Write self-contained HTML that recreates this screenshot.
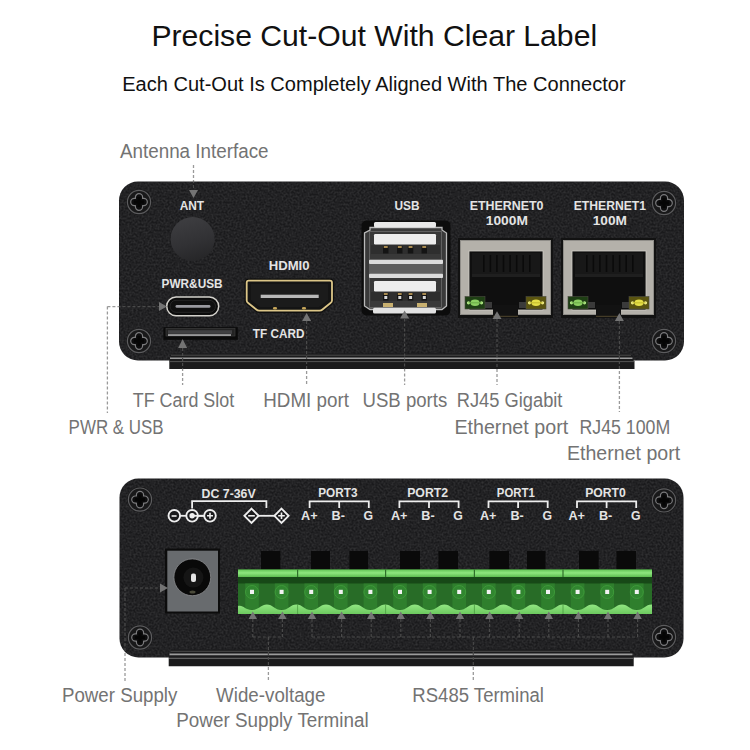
<!DOCTYPE html>
<html><head><meta charset="utf-8"><style>
html,body{margin:0;padding:0;background:#fff;width:750px;height:750px;overflow:hidden}
svg{display:block}
text{font-family:"Liberation Sans",sans-serif}
</style></head><body>
<svg width="750" height="750" viewBox="0 0 750 750">
<rect width="750" height="750" fill="#ffffff"/>
<text x="151.44" y="45.50" font-size="30" fill="#111111" font-weight="normal" textLength="445.67" lengthAdjust="spacingAndGlyphs">Precise Cut-Out With Clear Label</text>
<text x="122.15" y="91.00" font-size="19.5" fill="#111111" font-weight="normal" textLength="503.45" lengthAdjust="spacingAndGlyphs">Each Cut-Out Is Completely Aligned With The Connector</text>
<defs><filter id="grain" x="0" y="0" width="100%" height="100%" color-interpolation-filters="sRGB"><feTurbulence type="fractalNoise" baseFrequency="0.5" numOctaves="2" seed="7" result="n"/><feColorMatrix in="n" type="matrix" values="0 0 0 0 1  0 0 0 0 1  0 0 0 0 1  0.2 0 0 0 -0.06" result="w"/><feComposite in="w" in2="SourceGraphic" operator="in"/></filter></defs>
<rect x="119" y="181.5" width="565" height="179" rx="19" fill="#1a1a1c"/>
<rect x="119" y="181.5" width="565" height="179" rx="19" fill="#000" filter="url(#grain)"/>
<path d="M171.3 353.5 H630 L633 356.5 V360 L634.5 361 V369 H169.3 V360 L171.3 359 Z" fill="#1b1b1c"/>
<line x1="171" y1="355.2" x2="631" y2="355.2" stroke="#4a4a4a" stroke-width="1"/>
<line x1="170" y1="358.3" x2="632.5" y2="358.3" stroke="#9c9c9c" stroke-width="1.6"/>
<line x1="169.5" y1="361.6" x2="634" y2="361.6" stroke="#555" stroke-width="1"/>
<circle cx="139" cy="202" r="12.799999999999999" fill="#1a1a1b"/>
<circle cx="139" cy="202" r="11.6" fill="#19191a" stroke="#5c5c5e" stroke-width="1.2"/>
<path d="M135.4 198.4 V197.29999999999998 A3.6 3.6 0 0 1 142.6 197.29999999999998 V198.4 H143.70000000000002 A3.6 3.6 0 0 1 143.70000000000002 205.6 H142.6 V206.70000000000002 A3.6 3.6 0 0 1 135.4 206.70000000000002 V205.6 H134.29999999999998 A3.6 3.6 0 0 1 134.29999999999998 198.4 Z" fill="#0d0d0e" stroke="#7a7a7c" stroke-width="1.2" stroke-linejoin="round"/>
<path d="M137.4 197 H140.6 V200.4 H144 V203.6 H140.6 V207 H137.4 V203.6 H134 V200.4 H137.4 Z" fill="#050505"/>
<circle cx="664" cy="203" r="12.799999999999999" fill="#1a1a1b"/>
<circle cx="664" cy="203" r="11.6" fill="#19191a" stroke="#5c5c5e" stroke-width="1.2"/>
<path d="M660.4 199.4 V198.29999999999998 A3.6 3.6 0 0 1 667.6 198.29999999999998 V199.4 H668.6999999999999 A3.6 3.6 0 0 1 668.6999999999999 206.6 H667.6 V207.70000000000002 A3.6 3.6 0 0 1 660.4 207.70000000000002 V206.6 H659.3000000000001 A3.6 3.6 0 0 1 659.3000000000001 199.4 Z" fill="#0d0d0e" stroke="#7a7a7c" stroke-width="1.2" stroke-linejoin="round"/>
<path d="M662.4 198 H665.6 V201.4 H669 V204.6 H665.6 V208 H662.4 V204.6 H659 V201.4 H662.4 Z" fill="#050505"/>
<circle cx="139" cy="341" r="12.799999999999999" fill="#1a1a1b"/>
<circle cx="139" cy="341" r="11.6" fill="#19191a" stroke="#5c5c5e" stroke-width="1.2"/>
<path d="M135.4 337.4 V336.3 A3.6 3.6 0 0 1 142.6 336.3 V337.4 H143.70000000000002 A3.6 3.6 0 0 1 143.70000000000002 344.6 H142.6 V345.7 A3.6 3.6 0 0 1 135.4 345.7 V344.6 H134.29999999999998 A3.6 3.6 0 0 1 134.29999999999998 337.4 Z" fill="#0d0d0e" stroke="#7a7a7c" stroke-width="1.2" stroke-linejoin="round"/>
<path d="M137.4 336 H140.6 V339.4 H144 V342.6 H140.6 V346 H137.4 V342.6 H134 V339.4 H137.4 Z" fill="#050505"/>
<circle cx="664" cy="341" r="12.799999999999999" fill="#1a1a1b"/>
<circle cx="664" cy="341" r="11.6" fill="#19191a" stroke="#5c5c5e" stroke-width="1.2"/>
<path d="M660.4 337.4 V336.3 A3.6 3.6 0 0 1 667.6 336.3 V337.4 H668.6999999999999 A3.6 3.6 0 0 1 668.6999999999999 344.6 H667.6 V345.7 A3.6 3.6 0 0 1 660.4 345.7 V344.6 H659.3000000000001 A3.6 3.6 0 0 1 659.3000000000001 337.4 Z" fill="#0d0d0e" stroke="#7a7a7c" stroke-width="1.2" stroke-linejoin="round"/>
<path d="M662.4 336 H665.6 V339.4 H669 V342.6 H665.6 V346 H662.4 V342.6 H659 V339.4 H662.4 Z" fill="#050505"/>
<text x="179.71" y="210.00" font-size="12.5" fill="#e4e4e4" font-weight="bold" textLength="24.42" lengthAdjust="spacingAndGlyphs">ANT</text>
<defs><linearGradient id="antg" x1="0.3" y1="0" x2="0.6" y2="1"><stop offset="0" stop-color="#3e3e41"/><stop offset="0.6" stop-color="#313134"/><stop offset="1" stop-color="#262628"/></linearGradient></defs>
<circle cx="192.6" cy="239" r="22" fill="url(#antg)"/>
<text x="161.60" y="288.00" font-size="12.5" fill="#e4e4e4" font-weight="bold" textLength="60.95" lengthAdjust="spacingAndGlyphs">PWR&amp;USB</text>
<rect x="166.7" y="297" width="52" height="18.7" rx="9.35" fill="#0b0b0b" stroke="#d4d2cc" stroke-width="1.5"/>
<rect x="170" y="300.3" width="45.5" height="12" rx="6" fill="#101010" stroke="#262626" stroke-width="1"/>
<rect x="175.5" y="305" width="35" height="2.8" rx="1.4" fill="#9a9aa0"/>
<rect x="163.4" y="327.2" width="74.4" height="12.6" fill="#0a0a0a"/>
<rect x="166" y="328.6" width="69" height="7.4" fill="#232323" stroke="#3c3c3c" stroke-width="0.7"/>
<rect x="168" y="330.2" width="64" height="3.6" fill="#404042"/>
<rect x="168" y="334.3" width="63" height="1.5" fill="#b4b4b6"/>
<text x="268.74" y="270.40" font-size="13" fill="#e4e4e4" font-weight="bold" textLength="40.81" lengthAdjust="spacingAndGlyphs">HDMI0</text>
<path d="M248.7 280.7 H330 Q332 280.7 332 282.7 V300.5 Q332 302 330.5 303 L322.5 309.5 Q321.3 310.7 319.5 310.7 H259.3 Q257.5 310.7 256.3 309.5 L248.2 303 Q246.7 302 246.7 300.5 V282.7 Q246.7 280.7 248.7 280.7 Z" fill="none" stroke="#0e0e0e" stroke-width="4.5"/>
<path d="M248.7 280.7 H330 Q332 280.7 332 282.7 V300.5 Q332 302 330.5 303 L322.5 309.5 Q321.3 310.7 319.5 310.7 H259.3 Q257.5 310.7 256.3 309.5 L248.2 303 Q246.7 302 246.7 300.5 V282.7 Q246.7 280.7 248.7 280.7 Z" fill="#141414" stroke="#dcc688" stroke-width="1.8"/>
<path d="M251 284 H328 V300 L319 307 H260 L251 300 Z" fill="#1b1b1b"/>
<rect x="260.7" y="294.7" width="58" height="3.3" fill="#b8b8b8"/>
<ellipse cx="275" cy="308.3" rx="2.2" ry="1.3" fill="#c9a85a"/><ellipse cx="304" cy="308.3" rx="2.2" ry="1.3" fill="#c9a85a"/>
<text x="252.87" y="338.40" font-size="13.5" fill="#e4e4e4" font-weight="bold" textLength="51.60" lengthAdjust="spacingAndGlyphs">TF CARD</text>
<text x="394.49" y="209.80" font-size="12.5" fill="#e4e4e4" font-weight="bold" textLength="25.08" lengthAdjust="spacingAndGlyphs">USB</text>
<rect x="361.5" y="220.5" width="89" height="95" rx="5" fill="#0c0c0c"/>
<path d="M370 227.5 H442 V230 L446.5 233 V306 L442 309.5 H370 L364.5 306 V233 L370 230 Z" fill="#3a3a3a" stroke="#b9b9b9" stroke-width="1.3"/>
<rect x="369.5" y="231.5" width="72" height="76" fill="#383838" stroke="#6a6a6a" stroke-width="0.8"/>
<rect x="374" y="222" width="62" height="5.5" rx="1.5" fill="#e8e8e8"/>
<rect x="374" y="234" width="62" height="10.5" rx="1.2" fill="#ededed"/>
<rect x="371" y="245" width="69" height="9" fill="#2e2e2e"/>
<rect x="383" y="246" width="5.5" height="7.5" fill="#141414"/>
<rect x="383.8" y="246" width="3.9" height="2" fill="#a88a50"/>
<rect x="397" y="246" width="5.5" height="7.5" fill="#141414"/>
<rect x="397.8" y="246" width="3.9" height="2" fill="#a88a50"/>
<rect x="407.8" y="246" width="5.5" height="7.5" fill="#141414"/>
<rect x="408.6" y="246" width="3.9" height="2" fill="#a88a50"/>
<rect x="421.5" y="246" width="5.5" height="7.5" fill="#141414"/>
<rect x="422.3" y="246" width="3.9" height="2" fill="#a88a50"/>
<rect x="374" y="281" width="62" height="10.5" rx="1.2" fill="#ededed"/>
<rect x="371" y="292" width="69" height="9" fill="#2e2e2e"/>
<rect x="383" y="293" width="5.5" height="7.5" fill="#141414"/>
<rect x="383.8" y="293" width="3.9" height="2" fill="#a88a50"/>
<rect x="397" y="293" width="5.5" height="7.5" fill="#141414"/>
<rect x="397.8" y="293" width="3.9" height="2" fill="#a88a50"/>
<rect x="407.8" y="293" width="5.5" height="7.5" fill="#141414"/>
<rect x="408.6" y="293" width="3.9" height="2" fill="#a88a50"/>
<rect x="421.5" y="293" width="5.5" height="7.5" fill="#141414"/>
<rect x="422.3" y="293" width="3.9" height="2" fill="#a88a50"/>
<rect x="383" y="303" width="10" height="4" fill="#c8b070"/><rect x="417" y="303" width="10" height="4" fill="#c8b070"/>
<rect x="384.3" y="296" width="3" height="3" fill="#d8d8d8"/>
<rect x="398.3" y="296" width="3" height="3" fill="#d8d8d8"/>
<rect x="409.1" y="296" width="3" height="3" fill="#d8d8d8"/>
<rect x="422.8" y="296" width="3" height="3" fill="#d8d8d8"/>
<rect x="369" y="259.7" width="74" height="18.3" fill="#5e5e5e"/>
<rect x="369" y="259.7" width="74" height="4.2" rx="1" fill="#dcdcdc"/>
<rect x="369" y="273.8" width="74" height="4.2" rx="1" fill="#dcdcdc"/>
<rect x="373" y="307.7" width="63" height="5.8" rx="1.5" fill="#e2e2e2"/>
<text x="469.66" y="209.80" font-size="12.5" fill="#e4e4e4" font-weight="bold" textLength="73.86" lengthAdjust="spacingAndGlyphs">ETHERNET0</text>
<text x="485.82" y="225.00" font-size="12.5" fill="#e4e4e4" font-weight="bold" textLength="42.08" lengthAdjust="spacingAndGlyphs">1000M</text>
<text x="573.77" y="209.60" font-size="12.5" fill="#e4e4e4" font-weight="bold" textLength="72.18" lengthAdjust="spacingAndGlyphs">ETHERNET1</text>
<text x="592.73" y="225.00" font-size="12.5" fill="#e4e4e4" font-weight="bold" textLength="34.17" lengthAdjust="spacingAndGlyphs">100M</text>
<rect x="458" y="238" width="95" height="80" fill="#121212"/>
<rect x="460" y="240" width="91" height="75" fill="#b4b1aa"/>
<rect x="460.5" y="240.5" width="90" height="74" fill="none" stroke="#8f8d88" stroke-width="1"/>
<rect x="469" y="251" width="74" height="59" fill="#0f0f0f" stroke="#d0cdc5" stroke-width="0.8"/>
<rect x="472" y="253" width="68" height="21" fill="#181818"/>
<rect x="483.0" y="255" width="1.6" height="17" fill="#0a0a0a"/>
<rect x="489.6" y="255" width="1.6" height="17" fill="#0a0a0a"/>
<rect x="496.1" y="255" width="1.6" height="17" fill="#0a0a0a"/>
<rect x="502.7" y="255" width="1.6" height="17" fill="#0a0a0a"/>
<rect x="509.3" y="255" width="1.6" height="17" fill="#0a0a0a"/>
<rect x="515.9" y="255" width="1.6" height="17" fill="#0a0a0a"/>
<rect x="522.4" y="255" width="1.6" height="17" fill="#0a0a0a"/>
<rect x="529.0" y="255" width="1.6" height="17" fill="#0a0a0a"/>
<rect x="472" y="274" width="68" height="3" fill="#1f1f1f"/>
<rect x="493.0" y="305" width="25" height="11.5" fill="#121212"/>
<line x1="493.0" y1="316.3" x2="518.0" y2="316.3" stroke="#7a6a40" stroke-width="0.6"/>
<rect x="485" y="302" width="7" height="6" fill="#3a3a3a"/>
<rect x="519" y="302" width="7" height="6" fill="#3a3a3a"/>
<rect x="465" y="296.5" width="20" height="12.5" fill="#1e3f14" stroke="#4a4a40" stroke-width="0.6"/>
<ellipse cx="475" cy="302.8" rx="4.5" ry="3.2" fill="#8ccf62"/>
<circle cx="468.5" cy="302.8" r="1.6" fill="#b8f08a"/><circle cx="481.5" cy="302.8" r="1.6" fill="#b8f08a"/>
<line x1="468.5" y1="302.8" x2="481.5" y2="302.8" stroke="#6fb04a" stroke-width="1.2"/>
<rect x="526" y="296.5" width="20" height="12.5" fill="#5a5410" stroke="#4a4a40" stroke-width="0.6"/>
<ellipse cx="536" cy="302.8" rx="4.5" ry="3.2" fill="#e6e048"/>
<circle cx="529.5" cy="302.8" r="1.6" fill="#f4f08a"/><circle cx="542.5" cy="302.8" r="1.6" fill="#f4f08a"/>
<line x1="529.5" y1="302.8" x2="542.5" y2="302.8" stroke="#c8c030" stroke-width="1.2"/>
<rect x="561" y="238" width="95" height="80" fill="#121212"/>
<rect x="563" y="240" width="91" height="75" fill="#b4b1aa"/>
<rect x="563.5" y="240.5" width="90" height="74" fill="none" stroke="#8f8d88" stroke-width="1"/>
<rect x="572" y="251" width="74" height="59" fill="#0f0f0f" stroke="#d0cdc5" stroke-width="0.8"/>
<rect x="575" y="253" width="68" height="21" fill="#181818"/>
<rect x="586.0" y="255" width="1.6" height="17" fill="#0a0a0a"/>
<rect x="592.6" y="255" width="1.6" height="17" fill="#0a0a0a"/>
<rect x="599.1" y="255" width="1.6" height="17" fill="#0a0a0a"/>
<rect x="605.7" y="255" width="1.6" height="17" fill="#0a0a0a"/>
<rect x="612.3" y="255" width="1.6" height="17" fill="#0a0a0a"/>
<rect x="618.9" y="255" width="1.6" height="17" fill="#0a0a0a"/>
<rect x="625.4" y="255" width="1.6" height="17" fill="#0a0a0a"/>
<rect x="632.0" y="255" width="1.6" height="17" fill="#0a0a0a"/>
<rect x="575" y="274" width="68" height="3" fill="#1f1f1f"/>
<rect x="596.0" y="305" width="25" height="11.5" fill="#121212"/>
<line x1="596.0" y1="316.3" x2="621.0" y2="316.3" stroke="#7a6a40" stroke-width="0.6"/>
<rect x="588" y="302" width="7" height="6" fill="#3a3a3a"/>
<rect x="622" y="302" width="7" height="6" fill="#3a3a3a"/>
<rect x="568" y="296.5" width="20" height="12.5" fill="#1e3f14" stroke="#4a4a40" stroke-width="0.6"/>
<ellipse cx="578" cy="302.8" rx="4.5" ry="3.2" fill="#8ccf62"/>
<circle cx="571.5" cy="302.8" r="1.6" fill="#b8f08a"/><circle cx="584.5" cy="302.8" r="1.6" fill="#b8f08a"/>
<line x1="571.5" y1="302.8" x2="584.5" y2="302.8" stroke="#6fb04a" stroke-width="1.2"/>
<rect x="629" y="296.5" width="20" height="12.5" fill="#5a5410" stroke="#4a4a40" stroke-width="0.6"/>
<ellipse cx="639" cy="302.8" rx="4.5" ry="3.2" fill="#e6e048"/>
<circle cx="632.5" cy="302.8" r="1.6" fill="#f4f08a"/><circle cx="645.5" cy="302.8" r="1.6" fill="#f4f08a"/>
<line x1="632.5" y1="302.8" x2="645.5" y2="302.8" stroke="#c8c030" stroke-width="1.2"/>
<path d="M193.5 198 L198.0 190 L189.0 190 Z" fill="#747474"/>
<path d="M167 306.6 L159 302.1 L159 311.1 Z" fill="#747474"/>
<path d="M182.6 339 L187.1 348 L178.1 348 Z" fill="#747474"/>
<path d="M306.6 313 L311.1 321 L302.1 321 Z" fill="#747474"/>
<path d="M404.6 310.6 L409.1 318.5 L400.1 318.5 Z" fill="#747474"/>
<path d="M497 311.3 L501.5 319 L492.5 319 Z" fill="#747474"/>
<path d="M619.4 313 L623.9 321 L614.9 321 Z" fill="#747474"/>
<text x="119.95" y="158.30" font-size="20" fill="#737373" font-weight="normal" textLength="148.59" lengthAdjust="spacingAndGlyphs">Antenna Interface</text>
<text x="132.80" y="407.20" font-size="20" fill="#737373" font-weight="normal" textLength="101.35" lengthAdjust="spacingAndGlyphs">TF Card Slot</text>
<text x="263.25" y="407.20" font-size="20" fill="#737373" font-weight="normal" textLength="85.72" lengthAdjust="spacingAndGlyphs">HDMI port</text>
<text x="362.56" y="407.20" font-size="20" fill="#737373" font-weight="normal" textLength="84.69" lengthAdjust="spacingAndGlyphs">USB ports</text>
<text x="456.79" y="407.20" font-size="20" fill="#737373" font-weight="normal" textLength="105.66" lengthAdjust="spacingAndGlyphs">RJ45 Gigabit</text>
<text x="68.60" y="434.00" font-size="20" fill="#737373" font-weight="normal" textLength="95.08" lengthAdjust="spacingAndGlyphs">PWR &amp; USB</text>
<text x="454.38" y="434.00" font-size="20" fill="#737373" font-weight="normal" textLength="113.80" lengthAdjust="spacingAndGlyphs">Ethernet port</text>
<text x="579.54" y="433.60" font-size="20" fill="#737373" font-weight="normal" textLength="90.65" lengthAdjust="spacingAndGlyphs">RJ45 100M</text>
<text x="566.98" y="459.60" font-size="20" fill="#737373" font-weight="normal" textLength="113.19" lengthAdjust="spacingAndGlyphs">Ethernet port</text>
<rect x="119.5" y="478.5" width="564" height="179" rx="19" fill="#1a1a1c"/>
<rect x="119.5" y="478.5" width="564" height="179" rx="19" fill="#000" filter="url(#grain)"/>
<path d="M170.5 649.5 H630 L633 652.5 V656 L633.7 657 V666.3 H168.7 V657 L170.5 655.5 Z" fill="#1b1b1c"/>
<line x1="170.5" y1="651.3" x2="630" y2="651.3" stroke="#4a4a4a" stroke-width="1"/>
<line x1="169.5" y1="654.4" x2="632.5" y2="654.4" stroke="#9c9c9c" stroke-width="1.6"/>
<line x1="169" y1="658.4" x2="633.5" y2="658.4" stroke="#5e5e5e" stroke-width="1.1"/>
<circle cx="140" cy="499.6" r="12.799999999999999" fill="#1a1a1b"/>
<circle cx="140" cy="499.6" r="11.6" fill="#19191a" stroke="#5c5c5e" stroke-width="1.2"/>
<path d="M136.4 496.0 V494.90000000000003 A3.6 3.6 0 0 1 143.6 494.90000000000003 V496.0 H144.70000000000002 A3.6 3.6 0 0 1 144.70000000000002 503.20000000000005 H143.6 V504.3 A3.6 3.6 0 0 1 136.4 504.3 V503.20000000000005 H135.29999999999998 A3.6 3.6 0 0 1 135.29999999999998 496.0 Z" fill="#0d0d0e" stroke="#7a7a7c" stroke-width="1.2" stroke-linejoin="round"/>
<path d="M138.4 494.6 H141.6 V498.0 H145 V501.20000000000005 H141.6 V504.6 H138.4 V501.20000000000005 H135 V498.0 H138.4 Z" fill="#050505"/>
<circle cx="664" cy="500.4" r="12.799999999999999" fill="#1a1a1b"/>
<circle cx="664" cy="500.4" r="11.6" fill="#19191a" stroke="#5c5c5e" stroke-width="1.2"/>
<path d="M660.4 496.79999999999995 V495.7 A3.6 3.6 0 0 1 667.6 495.7 V496.79999999999995 H668.6999999999999 A3.6 3.6 0 0 1 668.6999999999999 504.0 H667.6 V505.09999999999997 A3.6 3.6 0 0 1 660.4 505.09999999999997 V504.0 H659.3000000000001 A3.6 3.6 0 0 1 659.3000000000001 496.79999999999995 Z" fill="#0d0d0e" stroke="#7a7a7c" stroke-width="1.2" stroke-linejoin="round"/>
<path d="M662.4 495.4 H665.6 V498.79999999999995 H669 V502.0 H665.6 V505.4 H662.4 V502.0 H659 V498.79999999999995 H662.4 Z" fill="#050505"/>
<circle cx="140" cy="637.5" r="12.799999999999999" fill="#1a1a1b"/>
<circle cx="140" cy="637.5" r="11.6" fill="#19191a" stroke="#5c5c5e" stroke-width="1.2"/>
<path d="M136.4 633.9 V632.8000000000001 A3.6 3.6 0 0 1 143.6 632.8000000000001 V633.9 H144.70000000000002 A3.6 3.6 0 0 1 144.70000000000002 641.1 H143.6 V642.1999999999999 A3.6 3.6 0 0 1 136.4 642.1999999999999 V641.1 H135.29999999999998 A3.6 3.6 0 0 1 135.29999999999998 633.9 Z" fill="#0d0d0e" stroke="#7a7a7c" stroke-width="1.2" stroke-linejoin="round"/>
<path d="M138.4 632.5 H141.6 V635.9 H145 V639.1 H141.6 V642.5 H138.4 V639.1 H135 V635.9 H138.4 Z" fill="#050505"/>
<circle cx="664" cy="637" r="12.799999999999999" fill="#1a1a1b"/>
<circle cx="664" cy="637" r="11.6" fill="#19191a" stroke="#5c5c5e" stroke-width="1.2"/>
<path d="M660.4 633.4 V632.3000000000001 A3.6 3.6 0 0 1 667.6 632.3000000000001 V633.4 H668.6999999999999 A3.6 3.6 0 0 1 668.6999999999999 640.6 H667.6 V641.6999999999999 A3.6 3.6 0 0 1 660.4 641.6999999999999 V640.6 H659.3000000000001 A3.6 3.6 0 0 1 659.3000000000001 633.4 Z" fill="#0d0d0e" stroke="#7a7a7c" stroke-width="1.2" stroke-linejoin="round"/>
<path d="M662.4 632 H665.6 V635.4 H669 V638.6 H665.6 V642 H662.4 V638.6 H659 V635.4 H662.4 Z" fill="#050505"/>
<text x="201.56" y="497.60" font-size="12.5" fill="#e4e4e4" font-weight="bold" textLength="54.12" lengthAdjust="spacingAndGlyphs">DC 7-36V</text>
<path d="M192.1 508.5 V501.2 H266.4 V508" stroke="#eeeeee" stroke-width="1.8" fill="none"/>
<line x1="180" y1="515.8" x2="204" y2="515.8" stroke="#eeeeee" stroke-width="1.8"/>
<circle cx="174.3" cy="515.8" r="5.8" fill="#1a1a1c" stroke="#eeeeee" stroke-width="1.9"/>
<circle cx="192.1" cy="515.8" r="5.8" fill="#1a1a1c" stroke="#eeeeee" stroke-width="1.9"/>
<circle cx="210" cy="515.8" r="5.8" fill="#1a1a1c" stroke="#eeeeee" stroke-width="1.9"/>
<line x1="171.6" y1="516" x2="176.6" y2="516" stroke="#eeeeee" stroke-width="1.6"/>
<circle cx="192.1" cy="515.8" r="2.7" fill="#eeeeee"/>
<path d="M194 515.8 H204" stroke="#eeeeee" stroke-width="1.8"/>
<path d="M207 515.8 H213 M210 512.8 V518.8" stroke="#eeeeee" stroke-width="1.6"/>
<line x1="258.4" y1="515.8" x2="274.6" y2="515.8" stroke="#eeeeee" stroke-width="1.8"/>
<path d="M251.5 508.7 L258.6 515.8 L251.5 522.9 L244.4 515.8 Z" fill="#1a1a1c" stroke="#eeeeee" stroke-width="1.9"/>
<path d="M281.5 508.7 L288.6 515.8 L281.5 522.9 L274.4 515.8 Z" fill="#1a1a1c" stroke="#eeeeee" stroke-width="1.9"/>
<path d="M248.2 515.8 H254.8" stroke="#eeeeee" stroke-width="1.6"/>
<path d="M278.2 515.8 H284.8 M281.5 512.5 V519.1" stroke="#eeeeee" stroke-width="1.6"/>
<text x="318.20" y="497.40" font-size="12.5" fill="#e4e4e4" font-weight="bold" textLength="39.25" lengthAdjust="spacingAndGlyphs">PORT3</text>
<path d="M309.6 508 V501.4 H368.8 V508 M339.20000000000005 501.4 V508" stroke="#eeeeee" stroke-width="1.8" fill="none"/>
<text x="301.10" y="520.30" font-size="12.5" fill="#e4e4e4" font-weight="bold" textLength="16.48" lengthAdjust="spacingAndGlyphs">A+</text>
<text x="331.54" y="520.30" font-size="12.5" fill="#e4e4e4" font-weight="bold" textLength="13.36" lengthAdjust="spacingAndGlyphs">B-</text>
<text x="363.51" y="520.30" font-size="12.5" fill="#e4e4e4" font-weight="bold" textLength="9.55" lengthAdjust="spacingAndGlyphs">G</text>
<text x="407.16" y="497.40" font-size="12.5" fill="#e4e4e4" font-weight="bold" textLength="40.95" lengthAdjust="spacingAndGlyphs">PORT2</text>
<path d="M399.4 508 V501.4 H458.59999999999997 V508 M429.0 501.4 V508" stroke="#eeeeee" stroke-width="1.8" fill="none"/>
<text x="390.90" y="520.30" font-size="12.5" fill="#e4e4e4" font-weight="bold" textLength="16.48" lengthAdjust="spacingAndGlyphs">A+</text>
<text x="421.34" y="520.30" font-size="12.5" fill="#e4e4e4" font-weight="bold" textLength="13.36" lengthAdjust="spacingAndGlyphs">B-</text>
<text x="453.31" y="520.30" font-size="12.5" fill="#e4e4e4" font-weight="bold" textLength="9.55" lengthAdjust="spacingAndGlyphs">G</text>
<text x="496.83" y="497.40" font-size="12.5" fill="#e4e4e4" font-weight="bold" textLength="37.91" lengthAdjust="spacingAndGlyphs">PORT1</text>
<path d="M488.5 508 V501.4 H547.7 V508 M518.1 501.4 V508" stroke="#eeeeee" stroke-width="1.8" fill="none"/>
<text x="480.00" y="520.30" font-size="12.5" fill="#e4e4e4" font-weight="bold" textLength="16.48" lengthAdjust="spacingAndGlyphs">A+</text>
<text x="510.44" y="520.30" font-size="12.5" fill="#e4e4e4" font-weight="bold" textLength="13.36" lengthAdjust="spacingAndGlyphs">B-</text>
<text x="542.41" y="520.30" font-size="12.5" fill="#e4e4e4" font-weight="bold" textLength="9.55" lengthAdjust="spacingAndGlyphs">G</text>
<text x="585.17" y="497.40" font-size="12.5" fill="#e4e4e4" font-weight="bold" textLength="40.64" lengthAdjust="spacingAndGlyphs">PORT0</text>
<path d="M577 508 V501.4 H636.2 V508 M606.6 501.4 V508" stroke="#eeeeee" stroke-width="1.8" fill="none"/>
<text x="568.50" y="520.30" font-size="12.5" fill="#e4e4e4" font-weight="bold" textLength="16.48" lengthAdjust="spacingAndGlyphs">A+</text>
<text x="598.94" y="520.30" font-size="12.5" fill="#e4e4e4" font-weight="bold" textLength="13.36" lengthAdjust="spacingAndGlyphs">B-</text>
<text x="630.91" y="520.30" font-size="12.5" fill="#e4e4e4" font-weight="bold" textLength="9.55" lengthAdjust="spacingAndGlyphs">G</text>
<rect x="165" y="548.5" width="55" height="65" fill="#0c0c0c"/>
<rect x="167.3" y="550.7" width="50.7" height="60.8" fill="#686b6e"/>
<circle cx="192.3" cy="577.3" r="18.4" fill="#090909" stroke="#8a8c8e" stroke-width="0.8"/>
<circle cx="193.4" cy="577.6" r="10" fill="#151515"/>
<rect x="191" y="573.6" width="5" height="8.5" rx="2" fill="#e4e4e4"/>
<ellipse cx="192.5" cy="592" rx="3" ry="1.5" fill="#4a4a3a"/>
<rect x="261" y="551" width="19.399999999999977" height="19" fill="#0a0a0a"/>
<rect x="311" y="551" width="19" height="19" fill="#0a0a0a"/>
<rect x="349.4" y="551" width="18.600000000000023" height="19" fill="#0a0a0a"/>
<rect x="400" y="551" width="20" height="19" fill="#0a0a0a"/>
<rect x="438.4" y="551" width="19.600000000000023" height="19" fill="#0a0a0a"/>
<rect x="489.4" y="551" width="19.600000000000023" height="19" fill="#0a0a0a"/>
<rect x="527" y="551" width="18.5" height="19" fill="#0a0a0a"/>
<rect x="579" y="551" width="19.700000000000045" height="19" fill="#0a0a0a"/>
<rect x="616.4" y="551" width="19.600000000000023" height="19" fill="#0a0a0a"/>
<defs><linearGradient id="tband" x1="0" y1="0" x2="0" y2="1"><stop offset="0" stop-color="#62c355"/><stop offset="0.45" stop-color="#8ee67f"/><stop offset="1" stop-color="#5cbc50"/></linearGradient><linearGradient id="wband" x1="0" y1="0" x2="0" y2="1"><stop offset="0" stop-color="#92e683"/><stop offset="1" stop-color="#6cc95e"/></linearGradient></defs>
<rect x="238" y="569.5" width="414" height="44.5" fill="#286c27"/>
<rect x="238" y="569.5" width="414" height="7.5" fill="url(#tband)"/>
<rect x="238" y="577" width="414" height="6.5" fill="#174817"/>
<rect x="245.2" y="583.5" width="13.6" height="26" fill="#2f7f2d"/>
<circle cx="252.0" cy="592" r="6.5" fill="#318630" stroke="#3e9a3a" stroke-width="1"/>
<rect x="250.0" y="589.8" width="4" height="4.2" fill="#f2f2f2"/>
<rect x="274.8" y="583.5" width="13.6" height="26" fill="#2f7f2d"/>
<circle cx="281.6" cy="592" r="6.5" fill="#318630" stroke="#3e9a3a" stroke-width="1"/>
<rect x="279.6" y="589.8" width="4" height="4.2" fill="#f2f2f2"/>
<rect x="304.4" y="583.5" width="13.6" height="26" fill="#2f7f2d"/>
<circle cx="311.2" cy="592" r="6.5" fill="#318630" stroke="#3e9a3a" stroke-width="1"/>
<rect x="309.2" y="589.8" width="4" height="4.2" fill="#f2f2f2"/>
<rect x="334.0" y="583.5" width="13.6" height="26" fill="#2f7f2d"/>
<circle cx="340.8" cy="592" r="6.5" fill="#318630" stroke="#3e9a3a" stroke-width="1"/>
<rect x="338.8" y="589.8" width="4" height="4.2" fill="#f2f2f2"/>
<rect x="363.59999999999997" y="583.5" width="13.6" height="26" fill="#2f7f2d"/>
<circle cx="370.4" cy="592" r="6.5" fill="#318630" stroke="#3e9a3a" stroke-width="1"/>
<rect x="368.4" y="589.8" width="4" height="4.2" fill="#f2f2f2"/>
<rect x="393.2" y="583.5" width="13.6" height="26" fill="#2f7f2d"/>
<circle cx="400.0" cy="592" r="6.5" fill="#318630" stroke="#3e9a3a" stroke-width="1"/>
<rect x="398.0" y="589.8" width="4" height="4.2" fill="#f2f2f2"/>
<rect x="422.8" y="583.5" width="13.6" height="26" fill="#2f7f2d"/>
<circle cx="429.6" cy="592" r="6.5" fill="#318630" stroke="#3e9a3a" stroke-width="1"/>
<rect x="427.6" y="589.8" width="4" height="4.2" fill="#f2f2f2"/>
<rect x="452.40000000000003" y="583.5" width="13.6" height="26" fill="#2f7f2d"/>
<circle cx="459.20000000000005" cy="592" r="6.5" fill="#318630" stroke="#3e9a3a" stroke-width="1"/>
<rect x="457.20000000000005" y="589.8" width="4" height="4.2" fill="#f2f2f2"/>
<rect x="482.0" y="583.5" width="13.6" height="26" fill="#2f7f2d"/>
<circle cx="488.8" cy="592" r="6.5" fill="#318630" stroke="#3e9a3a" stroke-width="1"/>
<rect x="486.8" y="589.8" width="4" height="4.2" fill="#f2f2f2"/>
<rect x="511.6000000000001" y="583.5" width="13.6" height="26" fill="#2f7f2d"/>
<circle cx="518.4000000000001" cy="592" r="6.5" fill="#318630" stroke="#3e9a3a" stroke-width="1"/>
<rect x="516.4000000000001" y="589.8" width="4" height="4.2" fill="#f2f2f2"/>
<rect x="541.2" y="583.5" width="13.6" height="26" fill="#2f7f2d"/>
<circle cx="548.0" cy="592" r="6.5" fill="#318630" stroke="#3e9a3a" stroke-width="1"/>
<rect x="546.0" y="589.8" width="4" height="4.2" fill="#f2f2f2"/>
<rect x="570.8000000000001" y="583.5" width="13.6" height="26" fill="#2f7f2d"/>
<circle cx="577.6" cy="592" r="6.5" fill="#318630" stroke="#3e9a3a" stroke-width="1"/>
<rect x="575.6" y="589.8" width="4" height="4.2" fill="#f2f2f2"/>
<rect x="600.4000000000001" y="583.5" width="13.6" height="26" fill="#2f7f2d"/>
<circle cx="607.2" cy="592" r="6.5" fill="#318630" stroke="#3e9a3a" stroke-width="1"/>
<rect x="605.2" y="589.8" width="4" height="4.2" fill="#f2f2f2"/>
<rect x="630.0" y="583.5" width="13.6" height="26" fill="#2f7f2d"/>
<circle cx="636.8" cy="592" r="6.5" fill="#318630" stroke="#3e9a3a" stroke-width="1"/>
<rect x="634.8" y="589.8" width="4" height="4.2" fill="#f2f2f2"/>
<path d="M238 614 V606 C243.2 604.5 245.0 610 252.0 610 C259.0 610 260.8 604.5 266.8 604.5 C272.8 604.5 274.6 610 281.6 610 C288.6 610 290.40000000000003 604.5 296.40000000000003 604.5 C302.4 604.5 304.2 610 311.2 610 C318.2 610 320.0 604.5 326.0 604.5 C332.0 604.5 333.8 610 340.8 610 C347.8 610 349.6 604.5 355.6 604.5 C361.59999999999997 604.5 363.4 610 370.4 610 C377.4 610 379.2 604.5 385.2 604.5 C391.2 604.5 393.0 610 400.0 610 C407.0 610 408.8 604.5 414.8 604.5 C420.8 604.5 422.6 610 429.6 610 C436.6 610 438.40000000000003 604.5 444.40000000000003 604.5 C450.40000000000003 604.5 452.20000000000005 610 459.20000000000005 610 C466.20000000000005 610 468.00000000000006 604.5 474.00000000000006 604.5 C480.0 604.5 481.8 610 488.8 610 C495.8 610 497.6 604.5 503.6 604.5 C509.6000000000001 604.5 511.4000000000001 610 518.4000000000001 610 C525.4000000000001 610 527.2 604.5 533.2 604.5 C539.2 604.5 541.0 610 548.0 610 C555.0 610 556.8 604.5 562.8 604.5 C568.8000000000001 604.5 570.6 610 577.6 610 C584.6 610 586.4 604.5 592.4 604.5 C598.4000000000001 604.5 600.2 610 607.2 610 C614.2 610 616.0 604.5 622.0 604.5 C628.0 604.5 629.8 610 636.8 610 C643.8 610 645.5999999999999 604.5 651.5999999999999 604.5 H652 V614 Z" fill="url(#wband)"/>
<line x1="297.6" y1="569.5" x2="297.6" y2="577" stroke="#2f6f2a" stroke-width="1.2"/>
<line x1="297.6" y1="604" x2="297.6" y2="614" stroke="#4a9a40" stroke-width="0.8"/>
<line x1="385.6" y1="569.5" x2="385.6" y2="577" stroke="#2f6f2a" stroke-width="1.2"/>
<line x1="385.6" y1="604" x2="385.6" y2="614" stroke="#4a9a40" stroke-width="0.8"/>
<line x1="474.4" y1="569.5" x2="474.4" y2="577" stroke="#2f6f2a" stroke-width="1.2"/>
<line x1="474.4" y1="604" x2="474.4" y2="614" stroke="#4a9a40" stroke-width="0.8"/>
<line x1="563" y1="569.5" x2="563" y2="577" stroke="#2f6f2a" stroke-width="1.2"/>
<line x1="563" y1="604" x2="563" y2="614" stroke="#4a9a40" stroke-width="0.8"/>
<path d="M252.8 611.6 L257.0 619 L248.60000000000002 619 Z" fill="#747474"/>
<path d="M282.40000000000003 611.6 L286.6 619 L278.20000000000005 619 Z" fill="#747474"/>
<path d="M312.0 611.6 L316.2 619 L307.8 619 Z" fill="#747474"/>
<path d="M341.6 611.6 L345.8 619 L337.40000000000003 619 Z" fill="#747474"/>
<path d="M371.2 611.6 L375.4 619 L367.0 619 Z" fill="#747474"/>
<path d="M400.8 611.6 L405.0 619 L396.6 619 Z" fill="#747474"/>
<path d="M430.40000000000003 611.6 L434.6 619 L426.20000000000005 619 Z" fill="#747474"/>
<path d="M460.00000000000006 611.6 L464.20000000000005 619 L455.80000000000007 619 Z" fill="#747474"/>
<path d="M489.6 611.6 L493.8 619 L485.40000000000003 619 Z" fill="#747474"/>
<path d="M519.2 611.6 L523.4000000000001 619 L515.0 619 Z" fill="#747474"/>
<path d="M548.8 611.6 L553.0 619 L544.5999999999999 619 Z" fill="#747474"/>
<path d="M578.4 611.6 L582.6 619 L574.1999999999999 619 Z" fill="#747474"/>
<path d="M608.0 611.6 L612.2 619 L603.8 619 Z" fill="#747474"/>
<path d="M637.5999999999999 611.6 L641.8 619 L633.3999999999999 619 Z" fill="#747474"/>
<path d="M168 588 L160 583.5 L160 592.5 Z" fill="#747474"/>
<text x="61.96" y="701.50" font-size="20" fill="#737373" font-weight="normal" textLength="115.39" lengthAdjust="spacingAndGlyphs">Power Supply</text>
<text x="216.11" y="702.20" font-size="20" fill="#737373" font-weight="normal" textLength="109.31" lengthAdjust="spacingAndGlyphs">Wide-voltage</text>
<text x="176.25" y="727.40" font-size="20" fill="#737373" font-weight="normal" textLength="192.40" lengthAdjust="spacingAndGlyphs">Power Supply Terminal</text>
<text x="412.37" y="701.90" font-size="20" fill="#737373" font-weight="normal" textLength="131.56" lengthAdjust="spacingAndGlyphs">RS485 Terminal</text>
<defs><clipPath id="inside"><rect x="119" y="181.5" width="565" height="179" rx="19"/><rect x="168" y="353" width="467" height="16"/><rect x="119.5" y="478.5" width="564" height="179" rx="19"/><rect x="168" y="649" width="467" height="17.5"/></clipPath><mask id="outside"><rect width="750" height="750" fill="#fff"/><g fill="#000"><rect x="119" y="181.5" width="565" height="179" rx="19"/><rect x="168" y="353" width="467" height="16"/><rect x="119.5" y="478.5" width="564" height="179" rx="19"/><rect x="168" y="649" width="467" height="17.5"/></g></mask></defs>
<path d="M193.5 165 V190 M107.4 306.6 H159 M107.4 306.6 V413 M182.6 348 V385 M306.6 321 V385 M404.6 318.5 V385 M497 319 V385 M619.4 321 V412 M252.8 619 V637 M282.40000000000003 619 V637 M312.0 619 V637 M341.6 619 V637 M371.2 619 V637 M400.8 619 V637 M430.40000000000003 619 V637 M460.00000000000006 619 V637 M489.6 619 V637 M519.2 619 V637 M548.8 619 V637 M578.4 619 V637 M608.0 619 V637 M637.5999999999999 619 V637 M252.8 637 H283.6 M268.4 637 V681 M312 637 H637.6 M473.3 637 V680 M125 588 H160 M125 588 V683" fill="none" stroke="#9a9a9a" stroke-width="1.3" stroke-dasharray="3 2" mask="url(#outside)"/>
<path d="M193.5 165 V190 M107.4 306.6 H159 M107.4 306.6 V413 M182.6 348 V385 M306.6 321 V385 M404.6 318.5 V385 M497 319 V385 M619.4 321 V412 M252.8 619 V637 M282.40000000000003 619 V637 M312.0 619 V637 M341.6 619 V637 M371.2 619 V637 M400.8 619 V637 M430.40000000000003 619 V637 M460.00000000000006 619 V637 M489.6 619 V637 M519.2 619 V637 M548.8 619 V637 M578.4 619 V637 M608.0 619 V637 M637.5999999999999 619 V637 M252.8 637 H283.6 M268.4 637 V681 M312 637 H637.6 M473.3 637 V680 M125 588 H160 M125 588 V683" fill="none" stroke="#4a4a4a" stroke-width="1.2" stroke-dasharray="3 2" clip-path="url(#inside)"/>
</svg>
</body></html>
